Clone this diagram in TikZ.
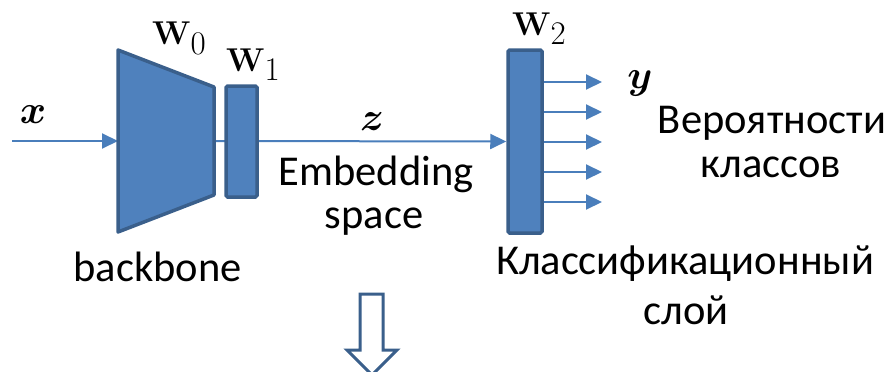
\RequirePackage{fix-cm}
\documentclass[tikz,border=0pt]{standalone}
\usepackage{amsmath}
\usepackage[no-math]{fontspec}
\setmainfont{Carlito}
\usetikzlibrary{arrows.meta,backgrounds}
\definecolor{fillblue}{HTML}{4F81BD}
\definecolor{edgeblue}{HTML}{3A5F8B}
\definecolor{arrowblue}{HTML}{4A7EBB}
\begin{document}
\begin{tikzpicture}[x=1pt,y=-1pt,
  layer/.style={draw=edgeblue, fill=fillblue, line width=3.5pt, rounded corners=1.5pt, inner sep=0pt},
  conn/.style={draw=arrowblue, line width=2pt, -{Triangle[length=16pt,width=15pt]}},
  txt/.style={font=\fontsize{42.5}{50}\selectfont, anchor=base, inner sep=0pt},
  mathlbl/.style={font=\fontsize{40}{48}\selectfont, anchor=base, inner sep=0pt},
  wlbl/.style={font=\fontsize{33}{40}\selectfont, anchor=base west, inner sep=0pt}]
\useasboundingbox (0,0) rectangle (892,372);
% backbone trapezoid
\draw[draw=edgeblue, fill=fillblue, line width=3.5pt, line join=round]
  (118,50) -- (214,87) -- (214,195) -- (118,232) -- cycle;
\coordinate (xin) at (12,141);
\coordinate (bbin) at (118,141);
\coordinate (bbout) at (214,141);
% layers
\node[layer, minimum width=31pt, minimum height=111pt] (w1) at (241.5,141.5) {};
\node[layer, minimum width=34pt, minimum height=183pt] (w2) at (525,141.5) {};
% connectors
\begin{scope}[on background layer]
  \draw[conn] (xin) -- (bbin);
  \draw[conn] (bbout) -- (w2.west);
\end{scope}
\foreach \i/\yy in {1/82,2/112,3/142,4/172,5/202}{
  \coordinate (o\i) at (602,\yy);
  \draw[conn] (w2.east |- o\i) -- (o\i);
}
% labels
\node[mathlbl] (xl) at (33,123) {$\boldsymbol{x}$};
\node[mathlbl] (zl) at (372,130) {$\boldsymbol{z}$};
\node[mathlbl] (yl) at (640,88) {$\boldsymbol{y}$};
\node[wlbl] (w0l) at (152,45) {$\mathbf{W}_{\textstyle 0}$};
\node[wlbl] (w1l) at (226,71) {$\mathbf{W}_{\textstyle 1}$};
\node[wlbl] (w2l) at (512,35) {$\mathbf{W}_{\textstyle 2}$};
\node[txt] (emb1) at (376,185) {Embedding};
\node[txt] (emb2) at (374,228) {space};
\node[txt] (bb) at (157.5,281) {backbone};
\node[txt] (pr1) at (772,133) {Вероятности};
\node[txt] (pr2) at (771,177) {классов};
\node[txt] (cl1) at (685,274) {Классификационный};
\node[txt] (cl2) at (686,324) {слой};
% hollow down arrow
\draw[draw=edgeblue, fill=white, line width=3pt, line join=miter]
  (360,294) -- (383,294) -- (383,350) -- (397,350) -- (372,375) -- (347,350) -- (360,350) -- cycle;
\end{tikzpicture}
\end{document}
